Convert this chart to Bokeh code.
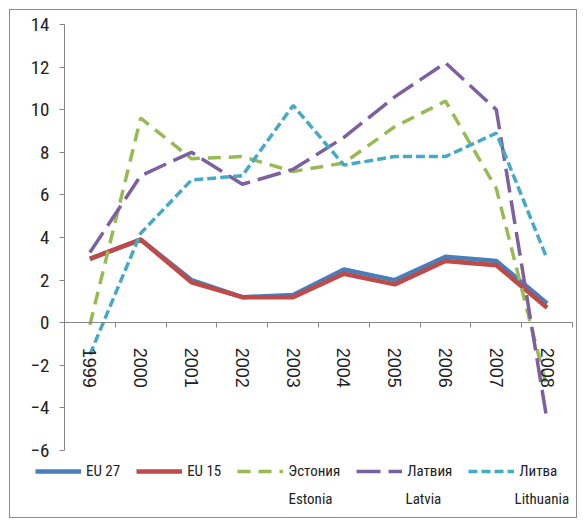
from bokeh.plotting import figure
from bokeh.models import Range1d, FixedTicker, Legend, LegendItem, Label
from bokeh.embed import file_html
from bokeh.resources import INLINE

years = [1999, 2000, 2001, 2002, 2003, 2004, 2005, 2006, 2007, 2008]
eu27 = [3.0, 3.9, 2.0, 1.2, 1.3, 2.5, 2.0, 3.1, 2.9, 0.9]
eu15 = [3.0, 3.9, 1.9, 1.2, 1.2, 2.3, 1.8, 2.9, 2.7, 0.7]
estonia = [-0.1, 9.6, 7.7, 7.8, 7.1, 7.5, 9.2, 10.4, 6.3, -3.1]
latvia = [3.3, 6.9, 8.0, 6.5, 7.2, 8.7, 10.6, 12.2, 10.0, -4.6]
lithuania = [-1.5, 4.2, 6.7, 6.9, 10.2, 7.4, 7.8, 7.8, 8.9, 3.0]
y_ticks = [-6, -4, -2, 0, 2, 4, 6, 8, 10, 12, 14]
labels = ["EU 27", "EU 15", "Эстония", "Латвия", "Литва"]
labels_2nd = ["", "", "Estonia", "Latvia", "Lithuania"]
FONT = "Liberation Sans Narrow, Roboto Condensed, Liberation Sans"

# frame spans the whole canvas so the legend below the axes is not clipped
p = figure(width=568, height=509, output_backend="svg", toolbar_location=None,
           x_range=Range1d(1997.437, 2008.618), y_range=Range1d(-9.239, 14.657),
           min_border_left=0, min_border_top=0, min_border_right=0,
           min_border_bottom=0)
p.styles = {"border": "1px solid #8c8c8c", "margin-left": "9px", "margin-top": "9px"}
p.grid.visible = False
p.outline_line_color = None

r1 = p.line(years, eu27, line_color="#4A7EBB", line_width=4.5)
r2 = p.line(years, eu15, line_color="#BE4B48", line_width=4.5)
r3 = p.line(years, estonia, line_color="#98B954", line_width=3.5, line_dash="13 8")
r4 = p.line(years, latvia, line_color="#7D60A0", line_width=3.5, line_dash="24 8")
r5 = p.line(years, lithuania, line_color="#46AAC5", line_width=3.5, line_dash="9 4")

xa = p.xaxis[0]
xa.fixed_location = 0
xa.bounds = (years[0] - 0.5, years[-1] + 0.5)
xa.ticker = FixedTicker(ticks=years, minor_ticks=[y - 0.5 for y in years] + [years[-1] + 0.5])
xa.major_tick_out = 0
xa.major_tick_in = 0
xa.minor_tick_out = 5
xa.minor_tick_in = 0
xa.major_label_orientation = "vertical"
xa.major_label_standoff = 20
xa.axis_line_color = "#868686"
xa.minor_tick_line_color = "#868686"
xa.major_label_text_font = "Liberation Sans"
xa.major_label_text_font_size = "18px"
xa.major_label_text_color = "#222222"

ya = p.yaxis[0]
ya.fixed_location = years[0] - 0.5
ya.bounds = (y_ticks[0], y_ticks[-1])
ya.ticker = FixedTicker(ticks=y_ticks)
ya.major_tick_out = 5
ya.major_tick_in = 0
ya.minor_tick_line_color = None
ya.axis_line_color = "#868686"
ya.major_tick_line_color = "#868686"
ya.major_label_text_font = FONT
ya.major_label_text_font_size = "19px"
ya.major_label_text_color = "#222222"
ya.major_label_standoff = 10

legend = Legend(items=[LegendItem(label=l, renderers=[r]) for l, r in zip(labels, [r1, r2, r3, r4, r5])],
                orientation="horizontal", location=(25, 39),
                glyph_width=46, glyph_height=18, label_height=18, spacing=16, label_standoff=5,
                padding=0, margin=0, border_line_color=None, background_fill_alpha=0,
                label_text_font=FONT, label_text_font_size="15px",
                label_text_color="#222222")
p.add_layout(legend)

second_x = [0, 0, 278, 395, 504]
for t, sx in zip(labels_2nd, second_x):
    if t:
        p.add_layout(Label(x=sx, y=21, x_units="screen", y_units="screen", text=t,
                           text_baseline="middle", text_font=FONT,
                           text_font_size="15px", text_color="#222222"))

open("out.html", "w").write(file_html(p, INLINE))
